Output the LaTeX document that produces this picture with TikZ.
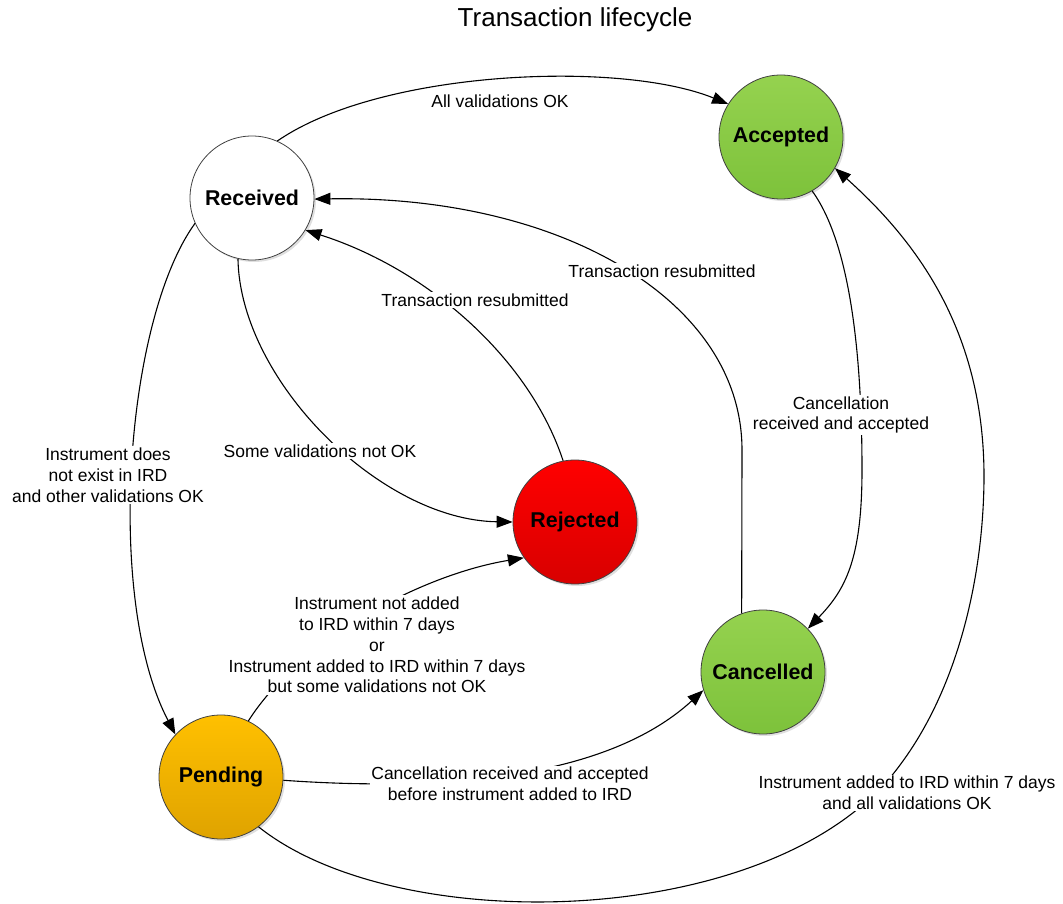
\documentclass[tikz,border=0pt]{standalone}
\usepackage{fontspec}
\setmainfont{Liberation Sans}
\usetikzlibrary{arrows.meta,shadows}
\definecolor{grnTop}{HTML}{95D24F}
\definecolor{grnBot}{HTML}{7DC23B}
\definecolor{redTop}{HTML}{FF0000}
\definecolor{redBot}{HTML}{D80000}
\definecolor{penTop}{HTML}{FFC000}
\definecolor{penBot}{HTML}{DFA300}
\definecolor{rim}{HTML}{404040}
\begin{document}
\begin{tikzpicture}[x=1pt,y=-1pt,
  state/.style={circle, draw=rim, line width=0.8pt, minimum size=124pt, inner sep=0pt,
    font=\fontsize{21.4}{24}\selectfont\bfseries,
    drop shadow={shadow xshift=2pt, shadow yshift=-2pt, opacity=0.25}},
  edge/.style={draw=black, line width=1.1pt, -{Triangle[length=16pt,width=12pt]}},
  lbl/.style={font=\fontsize{17.5}{20.8}\selectfont, align=center, fill=white, inner sep=1.5pt},
  ttl/.style={font=\fontsize{26}{30}\selectfont}]
\useasboundingbox (0,0) rectangle (1063,904);

\node[ttl] (title) at (575,20) {Transaction lifecycle};

\node[state, fill=white] (received) at (252,198) {Received};
\node[state, top color=grnTop, bottom color=grnBot] (accepted) at (781,137) {Accepted};
\node[state, top color=redTop, bottom color=redBot] (rejected) at (575,522) {Rejected};
\node[state, top color=penTop, bottom color=penBot] (pending) at (221,777) {Pending};
\node[state, top color=grnTop, bottom color=grnBot] (cancelled) at (763,672) {Cancelled};

% edges
\draw[edge] (received.66) .. controls (380,70) and (620,60) .. (accepted.148);
\draw[edge] (received.204) .. controls (125,320) and (105,600) .. (pending.137);
\draw[edge] (received.257) .. controls (240,380) and (380,520) .. (rejected.180);
\draw[edge] (rejected.101) .. controls (530,360) and (430,270) .. (received.329);
\draw[edge] (cancelled.110) -- (742,450) .. controls (742,300) and (560,195) .. (received.-1);
\draw[edge] (accepted.300) .. controls (855,250) and (862,380) .. (862,470)
   .. controls (862,560) and (845,590) .. (cancelled.44);
\draw[edge] (pending.64) .. controls (300,640) and (420,575) .. (rejected.215);
\draw[edge] (pending.-3) .. controls (420,790) and (600,785) .. (cancelled.197);
\draw[edge] (pending.307) .. controls (400,940) and (780,930) .. (900,765)
   .. controls (957,689) and (983,580) .. (984,480)
   .. controls (985,330) and (915,240) .. (accepted.-30);

% labels
\node[lbl, fill=none] (l1) at (500,101) {All validations OK};
\node[lbl] (l2) at (108,475) {Instrument does\\not exist in IRD\\and other validations OK};
\node[lbl] (l3) at (320,451) {Some validations not OK};
\node[lbl] (l4) at (475,300) {Transaction resubmitted};
\node[lbl] (l5) at (662,271) {Transaction resubmitted};
\node[lbl] (l6) at (841,415) {Cancellation\\received and accepted};
\node[lbl] (l7) at (377,645) {Instrument not added\\to IRD within 7 days\\or\\Instrument added to IRD within 7 days\\but some validations not OK};
\node[lbl] (l8) at (510,784) {Cancellation received and accepted\\before instrument added to IRD};
\node[lbl] (l9) at (907,793) {Instrument added to IRD within 7 days\\and all validations OK};
\end{tikzpicture}
\end{document}
